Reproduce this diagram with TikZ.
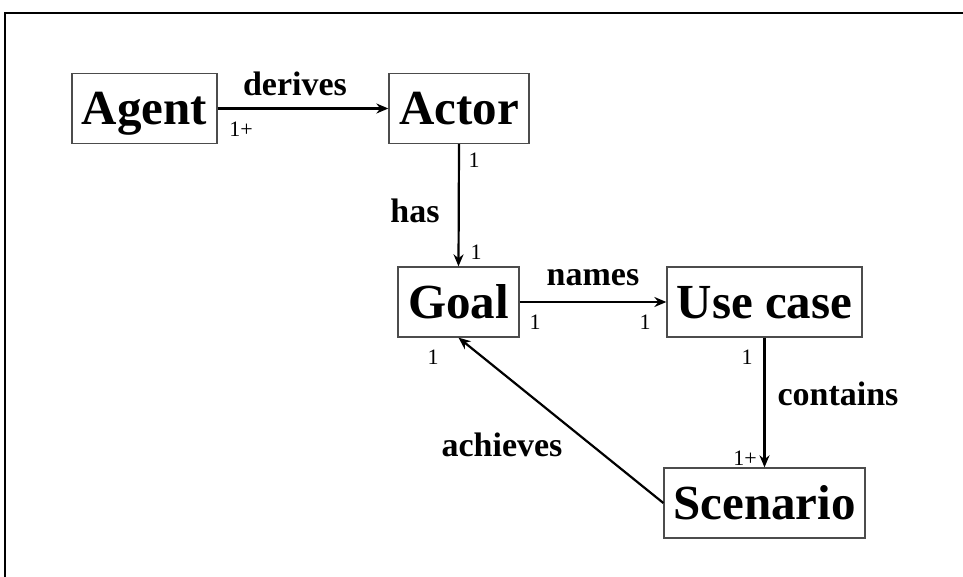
\documentclass[tikz,border=0pt]{standalone}
\usepackage{fontspec}
\setmainfont{Liberation Serif}
\usetikzlibrary{arrows.meta}
\begin{document}
\begin{tikzpicture}[x=1pt,y=-1pt,
  entity/.style={draw=black!70,line width=1.3pt,fill=white,minimum height=70pt,inner sep=0pt,
    text height=33pt,text depth=0pt,font=\fontsize{49}{51}\selectfont\bfseries},
  rel/.style={font=\fontsize{34}{36}\selectfont\bfseries,inner sep=0pt},
  mult/.style={font=\fontsize{22}{24}\selectfont,inner sep=0pt},
  link/.style={line width=2.2pt,-{Stealth[length=12pt,width=10pt]}}]
\useasboundingbox (0,0) rectangle (963,577);
% frame edges
\draw[line width=2.6pt] (5,577) -- (5,13) -- (963,13);

% entities
\node[entity,minimum width=145pt] (agent) at (144.5,108.5) {Agent};
\node[entity,minimum width=140pt] (actor) at (459,108.5) {Actor};
\node[entity,minimum width=121pt] (goal) at (458.5,302) {Goal};
\node[entity,minimum width=195pt] (usecase) at (764.5,302) {Use case};
\node[entity,minimum width=201pt] (scenario) at (764.5,503) {Scenario};

% associations
\draw[link] (agent.east) -- (actor.west);
\draw[link] (actor.south) -- (goal.north);
\draw[link] (goal.east) -- (usecase.west);
\draw[link] (usecase.south) -- (scenario.north);
\draw[link] (scenario.west) -- (goal.south);

% association names
\node[rel] (lderives) at (295,84) {derives};
\node[rel] (lhas) at (415,211) {has};
\node[rel] (lnames) at (593,278) {names};
\node[rel] (lcontains) at (838,394) {contains};
\node[rel] (lachieves) at (502,445) {achieves};

% multiplicities
\node[mult] (m1) at (241,129) {1+};
\node[mult] (m2) at (474,160) {1};
\node[mult] (m3) at (476,252) {1};
\node[mult] (m4) at (535,322) {1};
\node[mult] (m5) at (645,322) {1};
\node[mult] (m6) at (433,357) {1};
\node[mult] (m7) at (747,357) {1};
\node[mult] (m8) at (745,458) {1+};
\end{tikzpicture}
\end{document}
